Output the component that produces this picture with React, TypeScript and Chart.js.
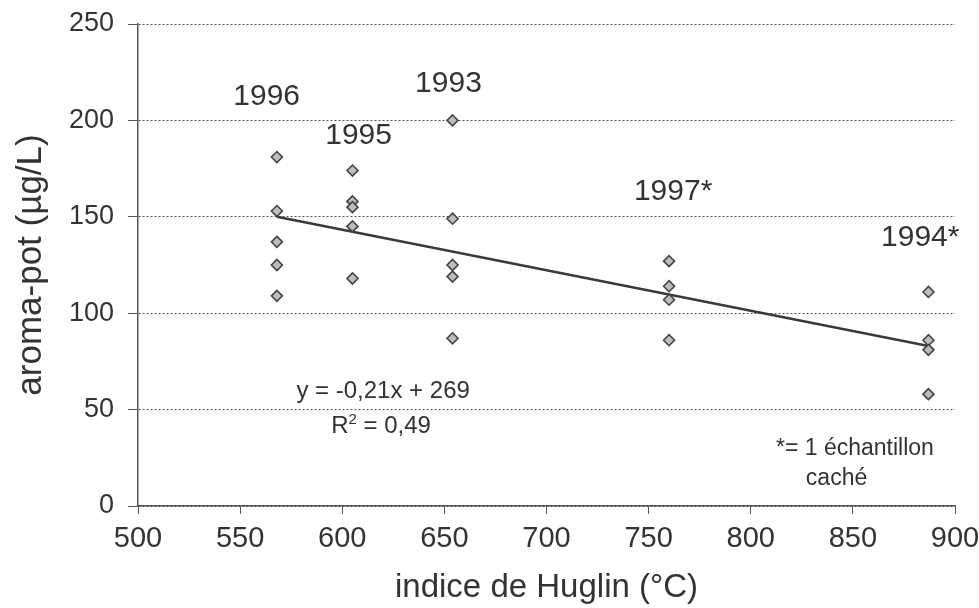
import React, { useEffect, useRef } from 'react';
import { Chart, registerables } from 'chart.js';

Chart.register(...registerables);

// ---- data ----
const years = ['1996', '1995', '1993', '1997*', '1994*'];
const huglinIndex = [568, 605, 654, 760, 887];
const aroma1996 = [181, 153, 137, 125, 109];
const aroma1995 = [174, 158, 155, 145, 118];
const aroma1993 = [200, 149, 125, 119, 87];
const aroma1997 = [127, 114, 107, 86];
const aroma1994 = [111, 86, 81, 58];
const aromaByYear = [aroma1996, aroma1995, aroma1993, aroma1997, aroma1994];

const trendX = [568, 887];
const trendY = [150, 83];

const xTickValues = [500, 550, 600, 650, 700, 750, 800, 850, 900];
const yTickValues = [0, 50, 100, 150, 200, 250];

const xTitle = 'indice de Huglin (°C)';
const yTitle = 'aroma-pot (µg/L)';
const equationText = 'y = -0,21x + 269';
const r2Parts = ['R', '2', ' = 0,49'];
const noteLines = ['*= 1 échantillon', 'caché'];

// anchors of the annotation texts, in data units
const yearLabelX = [563, 608, 652, 762, 883];
const yearLabelY = [212.5, 192, 219, 163, 139];
const equationAt = [620, 59.5];
const r2At = [619, 42.2];
const noteX = [851, 842];
const noteY = [30, 14];

const FONT = '"Liberation Sans", Arial, Helvetica, sans-serif';
const TEXT = '#333333';

const annotationPlugin = {
  id: 'textAnnotations',
  afterDatasetsDraw(chart: any) {
    const { ctx } = chart;
    const xs = chart.scales.x;
    const ys = chart.scales.y;
    ctx.save();
    ctx.fillStyle = TEXT;
    ctx.textAlign = 'center';
    ctx.textBaseline = 'middle';
    ctx.font = `30px ${FONT}`;
    years.forEach((t, i) => {
      ctx.fillText(t, xs.getPixelForValue(yearLabelX[i]), ys.getPixelForValue(yearLabelY[i]));
    });
    ctx.font = `24px ${FONT}`;
    ctx.fillText(equationText, xs.getPixelForValue(equationAt[0]), ys.getPixelForValue(equationAt[1]));

    // R² with a real superscript
    const big = `24px ${FONT}`;
    const small = `15px ${FONT}`;
    ctx.font = big;
    const wR = ctx.measureText(r2Parts[0]).width;
    const wRest = ctx.measureText(r2Parts[2]).width;
    ctx.font = small;
    const w2 = ctx.measureText(r2Parts[1]).width;
    const total = wR + w2 + wRest;
    const cx = xs.getPixelForValue(r2At[0]);
    const cy = ys.getPixelForValue(r2At[1]);
    let px = cx - total / 2;
    ctx.textAlign = 'left';
    ctx.textBaseline = 'alphabetic';
    const base = cy + 8;
    ctx.font = big;
    ctx.fillText(r2Parts[0], px, base);
    px += wR;
    ctx.font = small;
    ctx.fillText(r2Parts[1], px, base - 9);
    px += w2;
    ctx.font = big;
    ctx.fillText(r2Parts[2], px, base);

    ctx.textAlign = 'center';
    ctx.textBaseline = 'middle';
    ctx.font = `23px ${FONT}`;
    noteLines.forEach((t, i) => {
      ctx.fillText(t, xs.getPixelForValue(noteX[i]), ys.getPixelForValue(noteY[i]));
    });
    ctx.restore();
  },
};

export default function App() {
  const canvasRef = useRef<HTMLCanvasElement | null>(null);

  useEffect(() => {
    if (!canvasRef.current) return;
    const points: { x: number; y: number }[] = [];
    aromaByYear.forEach((vals, i) => {
      vals.forEach((v) => points.push({ x: huglinIndex[i], y: v }));
    });
    const trend = trendX.map((x, i) => ({ x, y: trendY[i] }));

    const chart = new Chart(canvasRef.current, {
      type: 'scatter',
      data: {
        datasets: [
          {
            label: 'aroma-pot',
            data: points,
            pointStyle: 'rectRot',
            pointRadius: 5.5,
            pointHoverRadius: 5.5,
            backgroundColor: '#bdbdbd',
            borderColor: '#444444',
            borderWidth: 1.6,
            showLine: false,
          },
          {
            label: 'tendance',
            data: trend,
            showLine: true,
            pointRadius: 0,
            borderColor: '#3a3a3a',
            borderWidth: 2.5,
            backgroundColor: '#3a3a3a',
          },
        ],
      },
      options: {
        animation: false,
        responsive: true,
        maintainAspectRatio: false,
        layout: { padding: { top: 24, right: 24, left: 0, bottom: 0 } },
        plugins: {
          legend: { display: false },
          tooltip: { enabled: false },
        },
        scales: {
          x: {
            type: 'linear',
            min: xTickValues[0],
            max: xTickValues[xTickValues.length - 1],
            afterBuildTicks: (s: any) => {
              s.ticks = xTickValues.map((v) => ({ value: v }));
            },
            afterFit: (s: any) => {
              s.height = 102;
              s.paddingLeft = 0;
              s.paddingRight = 0;
            },
            ticks: {
              color: TEXT,
              font: { size: 29, family: FONT },
              padding: 8,
              maxRotation: 0,
              autoSkip: false,
            },
            grid: {
              drawOnChartArea: false,
              drawTicks: true,
              tickLength: 8,
              tickColor: '#555555',
              tickWidth: 1,
            },
            border: { color: '#555555', width: 1.5 },
            title: {
              display: true,
              text: xTitle,
              color: TEXT,
              font: { size: 33, family: FONT },
              padding: { top: 0, bottom: 0 },
            },
          },
          y: {
            type: 'linear',
            min: yTickValues[0],
            max: yTickValues[yTickValues.length - 1],
            afterBuildTicks: (s: any) => {
              s.ticks = yTickValues.map((v) => ({ value: v }));
            },
            afterFit: (s: any) => {
              s.width = 138;
              s.paddingTop = 0;
              s.paddingBottom = 0;
            },
            ticks: {
              color: TEXT,
              font: { size: 27, family: FONT },
              padding: 14,
              autoSkip: false,
            },
            grid: {
              drawOnChartArea: true,
              drawTicks: true,
              tickLength: 10,
              color: '#555555',
              lineWidth: 1,
              tickColor: '#555555',
              tickWidth: 1,
            },
            border: { color: '#555555', width: 1.5, dash: [2, 2] },
            title: {
              display: true,
              text: yTitle,
              color: TEXT,
              font: { size: 35, family: FONT },
              padding: { top: 10, bottom: 0 },
            },
          },
        },
      },
      plugins: [annotationPlugin],
    });
    return () => chart.destroy();
  }, []);

  return (
    <div
      style={{
        position: 'absolute',
        left: 0,
        top: 0,
        width: 979,
        height: 608,
        background: '#ffffff',
      }}
    >
      <canvas ref={canvasRef} />
    </div>
  );
}
